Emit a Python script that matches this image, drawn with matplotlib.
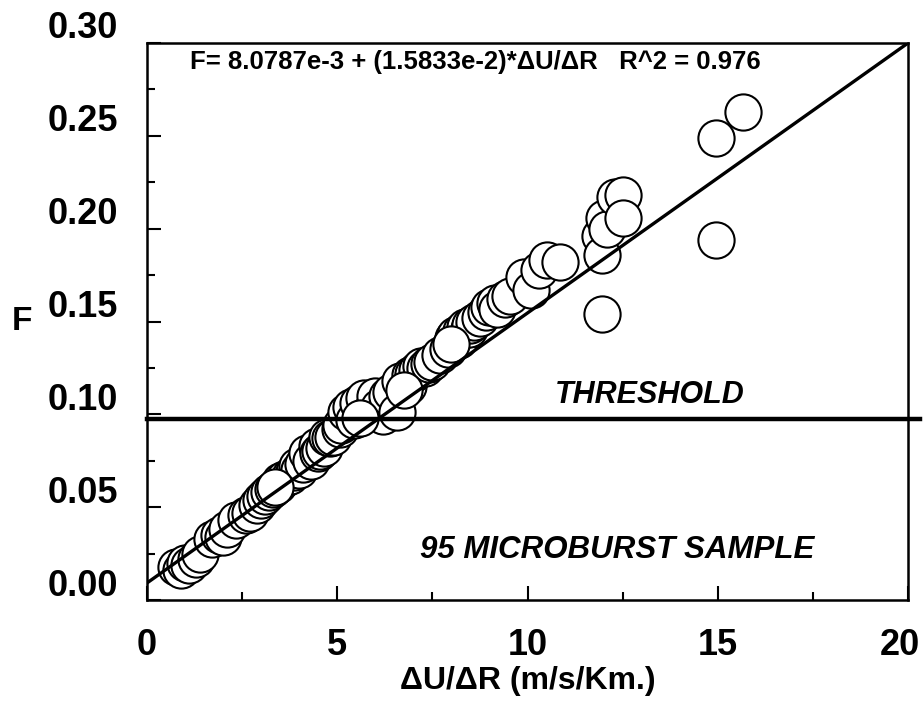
import matplotlib.pyplot as plt
from matplotlib.transforms import ScaledTranslation

plt.rcParams['font.family'] = ['Liberation Sans', 'DejaVu Sans']
plt.rcParams['font.weight'] = 'bold'

# shear (m/s/km) and F-factor for the 95 microburst cases
shear = [0.75, 0.9, 1.0, 1.1, 1.3, 1.4, 1.7, 1.9, 2.0, 2.1,
         2.35, 2.6, 2.7, 2.9, 3.0, 3.1, 3.2, 3.3, 3.45, 3.5,
         3.6, 3.75, 3.85, 3.93, 4.0, 4.1, 4.2, 4.3, 4.46, 4.5,
         4.55, 4.65, 4.72, 4.8, 4.9, 5.07, 5.1, 5.23, 5.35, 5.45,
         5.55, 5.7, 5.85, 6.0, 6.1, 6.2, 6.3, 6.4, 6.57, 6.65,
         6.85, 6.9, 7.0, 7.1, 7.2, 7.3, 7.4, 7.5, 7.7, 7.9,
         8.05, 8.1, 8.2, 8.25, 8.35, 8.45, 8.5, 8.6, 8.75, 8.9,
         9.0, 9.15, 9.2, 9.4, 9.55, 9.9, 10.1, 10.3, 10.5, 10.85,
         11.9, 11.95, 11.95, 12.0, 12.1, 12.3, 12.5, 12.52, 14.95, 14.95,
         15.66, 5.6, 6.75, 8.0, 3.35]
ffactor = [0.018, 0.016, 0.020, 0.019, 0.022, 0.025, 0.033, 0.035, 0.034, 0.038,
           0.043, 0.046, 0.047, 0.051, 0.054, 0.056, 0.058, 0.060, 0.062, 0.064,
           0.065, 0.067, 0.069, 0.072, 0.070, 0.073, 0.079, 0.075, 0.083, 0.079,
           0.080, 0.082, 0.088, 0.087, 0.088, 0.092, 0.094, 0.101, 0.104, 0.097,
           0.106, 0.109, 0.101, 0.110, 0.104, 0.099, 0.110, 0.112, 0.101, 0.118,
           0.115, 0.121, 0.122, 0.124, 0.126, 0.125, 0.127, 0.128, 0.132, 0.135,
           0.141, 0.143, 0.140, 0.145, 0.147, 0.146, 0.148, 0.150, 0.152, 0.155,
           0.158, 0.160, 0.157, 0.162, 0.164, 0.174, 0.167, 0.178, 0.183, 0.182,
           0.196, 0.186, 0.154, 0.206, 0.200, 0.217, 0.218, 0.206, 0.249, 0.194,
           0.263, 0.098, 0.113, 0.138, 0.061]

# regression line as drawn on the original
line_x = [0, 20]
line_f = [0.0092, 0.30]
threshold = 0.0975

fig = plt.figure(figsize=(9.23, 7.06), dpi=100)
ax = fig.add_axes([0.1593, 0.1501, 0.8245, 0.789])

ax.scatter(shear, ffactor, s=680, facecolors='white', edgecolors='black',
           linewidths=1.5, zorder=2)
ax.plot(line_x, line_f, color='black', lw=2.4, zorder=3)
ax.plot([0, 1.016], [threshold, threshold], color='black', lw=3.2,
        transform=ax.get_yaxis_transform(), clip_on=False, zorder=3)

ax.set_xlim(0, 20)
ax.set_ylim(0, 0.30)
ax.set_xticks([0, 5, 10, 15, 20])
ax.set_xticks([2.5, 7.5, 12.5, 17.5], minor=True)
ax.set_yticks([0.00, 0.05, 0.10, 0.15, 0.20, 0.25, 0.30])
ax.set_yticklabels(['0.00', '0.05', '0.10', '0.15', '0.20', '0.25', '0.30'])
ax.set_yticks([0.025, 0.075, 0.125, 0.175, 0.225, 0.275], minor=True)

ax.tick_params(which='both', direction='in', width=1.5, labelsize=26)
ax.tick_params(which='major', length=10)
ax.tick_params(which='minor', length=6)
ax.tick_params(axis='x', pad=20)
ax.tick_params(axis='y', pad=21)
for sp in ax.spines.values():
    sp.set_linewidth(1.8)

# y labels in the original sit a bit above their ticks
shift = ScaledTranslation(0, 0.18, fig.dpi_scale_trans)
for lab in ax.get_yticklabels():
    lab.set_transform(lab.get_transform() + shift)
# last x label is pulled in so it stays on the page
xlabs = ax.get_xticklabels()
xlabs[-1].set_transform(xlabs[-1].get_transform()
                        + ScaledTranslation(-0.08, 0, fig.dpi_scale_trans))

ax.set_xlabel('\u0394U/\u0394R (m/s/Km.)', fontsize=23, fontweight='bold', labelpad=2)
ax.set_ylabel('F', fontsize=24, fontweight='bold', rotation=0, va='center')
ax.yaxis.set_label_coords(-0.165, 0.5)

ax.text(0.432, 0.966, 'F= 8.0787e-3 + (1.5833e-2)*\u0394U/\u0394R   R^2 = 0.976',
        transform=ax.transAxes, ha='center', va='center', fontsize=18.5,
        fontweight='bold')
ax.text(0.661, 0.368, 'THRESHOLD', transform=ax.transAxes, ha='center',
        va='center', fontsize=22, fontweight='bold', style='italic')
ax.text(0.618, 0.09, '95 MICROBURST SAMPLE', transform=ax.transAxes,
        ha='center', va='center', fontsize=22.5, fontweight='bold', style='italic')

fig.savefig('out.png', dpi=100)
